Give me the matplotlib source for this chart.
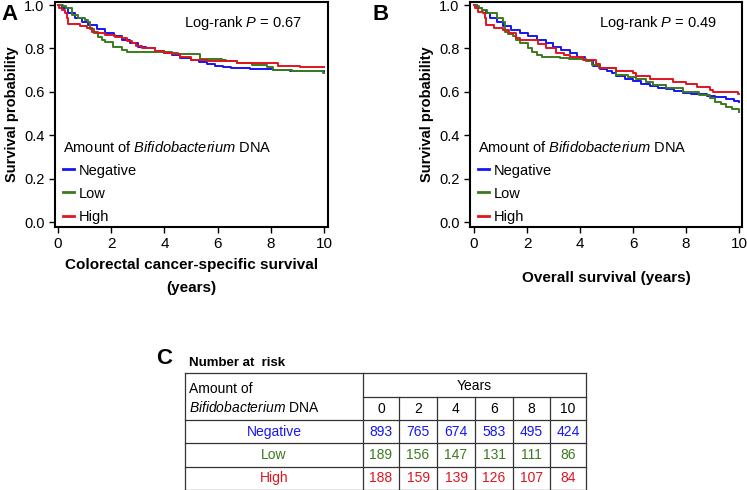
import matplotlib
matplotlib.use("Agg")
import matplotlib.pyplot as plt

plt.rcParams['font.family'] = ['Liberation Sans', 'DejaVu Sans']
plt.rcParams['mathtext.fontset'] = 'custom'
plt.rcParams['mathtext.rm'] = 'Liberation Sans'
plt.rcParams['mathtext.it'] = 'Liberation Sans:italic'
plt.rcParams['mathtext.bf'] = 'Liberation Sans:bold'

# ---------------- data ----------------
groups = ["Negative", "Low", "High"]
colors = ["#1515f5", "#3b7a1e", "#e0151e"]

# Panel A: colorectal cancer-specific survival
neg_A_t = [0, 0.14, 0.39, 0.64, 0.9, 1.14, 1.45, 1.77, 2.1, 2.39, 2.7, 3.02, 3.3, 3.65, 4.0, 4.27, 4.6, 5.0, 5.3, 5.59, 5.9, 6.2, 6.5, 6.84, 7.2, 7.47, 8.1, 8.72, 10.0]
neg_A_s = [1.0, 0.985, 0.962, 0.939, 0.922, 0.908, 0.89, 0.873, 0.856, 0.839, 0.824, 0.808, 0.80, 0.79, 0.78, 0.77, 0.758, 0.746, 0.737, 0.727, 0.72, 0.716, 0.712, 0.708, 0.706, 0.704, 0.700, 0.697, 0.697]
low_A_t = [0, 0.2, 0.3, 0.51, 0.75, 1.02, 1.14, 1.2, 1.35, 1.52, 1.65, 1.77, 2.08, 2.39, 2.58, 3.65, 4.27, 4.5, 5.34, 6.15, 6.3, 6.72, 7.3, 7.84, 8.1, 8.8, 9.95, 10.0]
low_A_s = [1.0, 0.996, 0.985, 0.954, 0.94, 0.931, 0.923, 0.888, 0.87, 0.854, 0.84, 0.831, 0.808, 0.793, 0.785, 0.782, 0.777, 0.773, 0.75, 0.747, 0.74, 0.731, 0.725, 0.716, 0.70, 0.697, 0.687, 0.687]
high_A_t = [0, 0.05, 0.14, 0.25, 0.33, 0.39, 0.83, 1.08, 1.27, 1.52, 1.77, 2.14, 2.39, 2.6, 2.77, 2.95, 3.15, 3.65, 4.0, 4.27, 4.6, 5.0, 5.59, 6.72, 8.28, 9.1, 10.0]
high_A_s = [1.0, 0.985, 0.977, 0.962, 0.939, 0.912, 0.903, 0.892, 0.877, 0.87, 0.862, 0.851, 0.846, 0.836, 0.826, 0.812, 0.80, 0.79, 0.78, 0.774, 0.76, 0.747, 0.74, 0.731, 0.72, 0.713, 0.713]

# Panel B: overall survival
neg_B_t = [0, 0.1, 0.3, 0.45, 0.6, 0.85, 1.1, 1.4, 1.73, 2.05, 2.36, 2.7, 2.99, 3.3, 3.62, 3.9, 4.2, 4.5, 4.75, 5.0, 5.2, 5.37, 5.7, 6.0, 6.3, 6.63, 6.95, 7.25, 7.55, 7.88, 8.2, 8.5, 8.8, 9.1, 9.5, 9.8, 10.0]
neg_B_s = [1.0, 0.985, 0.975, 0.962, 0.939, 0.92, 0.903, 0.886, 0.87, 0.855, 0.839, 0.823, 0.808, 0.792, 0.777, 0.762, 0.745, 0.72, 0.705, 0.697, 0.685, 0.675, 0.66, 0.648, 0.637, 0.627, 0.619, 0.611, 0.603, 0.596, 0.592, 0.588, 0.58, 0.575, 0.565, 0.558, 0.554]
low_B_t = [0, 0.1, 0.2, 0.3, 0.48, 0.85, 1.1, 1.17, 1.3, 1.48, 1.6, 1.73, 2.05, 2.2, 2.36, 2.55, 3.24, 3.6, 4.24, 4.45, 4.7, 5.34, 5.8, 6.1, 6.5, 6.76, 7.25, 7.88, 8.5, 8.9, 9.1, 9.3, 9.5, 9.75, 10.0]
low_B_s = [1.0, 0.996, 0.985, 0.975, 0.962, 0.939, 0.92, 0.877, 0.866, 0.855, 0.84, 0.825, 0.80, 0.785, 0.77, 0.762, 0.755, 0.75, 0.744, 0.725, 0.708, 0.677, 0.67, 0.66, 0.646, 0.631, 0.616, 0.60, 0.585, 0.57, 0.555, 0.545, 0.53, 0.52, 0.508]
high_B_t = [0, 0.05, 0.15, 0.33, 0.4, 0.45, 0.77, 1.08, 1.33, 1.58, 1.73, 2.4, 2.73, 3.11, 3.4, 3.62, 4.12, 4.6, 4.75, 5.37, 6.0, 6.1, 6.63, 7.5, 8.0, 8.4, 8.9, 9.0, 9.95, 10.0]
high_B_s = [1.0, 0.985, 0.97, 0.962, 0.94, 0.908, 0.892, 0.885, 0.87, 0.847, 0.837, 0.82, 0.80, 0.78, 0.77, 0.762, 0.747, 0.73, 0.708, 0.697, 0.685, 0.673, 0.657, 0.646, 0.638, 0.623, 0.608, 0.60, 0.588, 0.588]

pval_A = "0.67"
pval_B = "0.49"

# Number at risk table
years = [0, 2, 4, 6, 8, 10]
risk_neg = [893, 765, 674, 583, 495, 424]
risk_low = [189, 156, 147, 131, 111, 86]
risk_high = [188, 159, 139, 126, 107, 84]

# ---------------- figure ----------------
W, H = 747, 490
fig = plt.figure(figsize=(W / 100, H / 100), dpi=100)


def px_axes(left, top, right, bottom):
    return fig.add_axes([left / W, 1 - bottom / H, (right - left) / W, (bottom - top) / H])


narrow = ['Liberation Sans Narrow', 'Liberation Sans', 'DejaVu Sans']


def km_panel(ax, series, pval, xlabel, xlim, labelpad):
    lines = []
    for (t, s), c, g in zip(series, colors, groups):
        ln, = ax.step(t, s, where='post', color=c, lw=1.4, label=g)
        lines.append(ln)
    ax.set_xlim(*xlim)
    ax.set_ylim(-0.023, 1.014)
    ax.set_xticks(years)
    ax.set_yticks([0, 0.2, 0.4, 0.6, 0.8, 1.0])
    ax.set_yticklabels(["0.0", "0.2", "0.4", "0.6", "0.8", "1.0"])
    ax.tick_params(axis='both', direction='out', length=4, width=1, labelsize=10.5, colors='black')
    for lab in ax.get_xticklabels():
        lab.set_family(narrow)
        lab.set_fontsize(11)
    for sp in ax.spines.values():
        sp.set_linewidth(1.5)
    ax.set_ylabel("Survival probability", fontsize=10.5, fontweight='bold', labelpad=4)
    ax.set_xlabel(xlabel, fontsize=11, fontweight='bold', family=narrow, labelpad=labelpad, linespacing=1.75)
    ax.text(6.95, 0.917, "Log-rank $P$ = " + pval, fontsize=10.5, ha='center', va='center')
    leg = ax.legend(handles=lines, loc='lower left', bbox_to_anchor=(0.028, 0.015),
                    frameon=False, title="Amount of $\\it{Bifidobacterium}$ DNA",
                    fontsize=10.5, title_fontsize=10.5, handlelength=0.75,
                    handletextpad=0.35, labelspacing=0.62, borderpad=0, borderaxespad=0,
                    alignment='left')
    for ln in leg.get_lines():
        ln.set_linewidth(2.0)
    return ax


axA = px_axes(55, 2, 328, 227)
km_panel(axA, [(neg_A_t, neg_A_s), (low_A_t, low_A_s), (high_A_t, high_A_s)], pval_A,
         "Colorectal cancer-specific survival\n(years)", (-0.113, 10.15), 5)
axB = px_axes(470, 2, 742, 227)
km_panel(axB, [(neg_B_t, neg_B_s), (low_B_t, low_B_s), (high_B_t, high_B_s)], pval_B,
         "Overall survival (years)", (-0.151, 10.11), 14)

fig.text(1 / W, 1 - 14 / H, "A", fontsize=16, fontweight='bold', va='center', ha='left')
fig.text(373 / W, 1 - 14 / H, "B", fontsize=16, fontweight='bold', va='center', ha='left')

# ---------------- table C ----------------
tab = fig.add_axes([0, 0, 1, 1])
tab.set_xlim(0, W)
tab.set_ylim(H, 0)
tab.axis('off')

tab.text(156, 358, "C", fontsize=16, fontweight='bold', va='center', ha='left')
tab.text(189, 363, "Number at  risk", fontsize=9.5, fontweight='bold', va='center', ha='left')

x_left, x_div, x_right = 185, 363, 586
col_edges = [363, 399, 437, 475, 513, 550, 586]
y_top, y_years, y_head, y_r1, y_r2, y_bot = 373, 397, 420, 443, 467, 489.5
lc = '#333333'
lw = 0.9
for y in [y_top, y_head, y_r1, y_r2, y_bot]:
    tab.plot([x_left, x_right], [y, y], color=lc, lw=lw)
tab.plot([x_div, x_right], [y_years, y_years], color=lc, lw=lw)
tab.plot([x_left, x_left], [y_top, y_bot], color=lc, lw=lw)
tab.plot([x_right, x_right], [y_top, y_bot], color=lc, lw=lw)
tab.plot([x_div, x_div], [y_top, y_bot], color=lc, lw=lw)
for xe in col_edges[1:-1]:
    tab.plot([xe, xe], [y_years, y_bot], color=lc, lw=lw)

fs = 10
tab.text(189, 389, "Amount of", fontsize=fs, va='center', ha='left')
tab.text(189, 407, "$\\it{Bifidobacterium}$ DNA", fontsize=fs, va='center', ha='left')
tab.text((x_div + x_right) / 2, 386, "Years", fontsize=fs, va='center', ha='center')
for i, yv in enumerate(years):
    xc = (col_edges[i] + col_edges[i + 1]) / 2
    tab.text(xc, 409, str(yv), fontsize=fs, va='center', ha='center')

row_y = [432, 455, 478]
for g, c, vals, yy in zip(groups, colors, [risk_neg, risk_low, risk_high], row_y):
    tab.text((x_left + x_div) / 2, yy, g, fontsize=fs, color=c, va='center', ha='center')
    for i, v in enumerate(vals):
        xc = (col_edges[i] + col_edges[i + 1]) / 2
        tab.text(xc, yy, str(v), fontsize=fs, color=c, va='center', ha='center')

fig.savefig("out.png", dpi=100)
